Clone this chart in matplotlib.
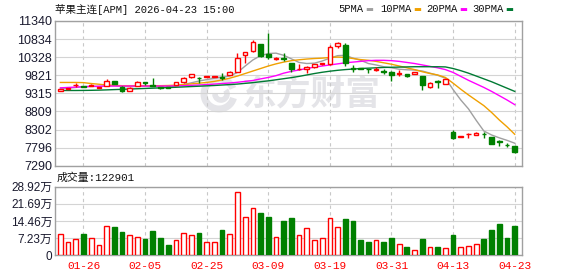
import numpy as np
import matplotlib
matplotlib.use("Agg")
import matplotlib.pyplot as plt
from matplotlib.patches import Arc

# ---- data ----
dates = ["01-21", "01-22", "01-23", "01-26", "01-27", "01-28", "01-29", "01-30",
         "02-02", "02-03", "02-04", "02-05", "02-06", "02-09", "02-10", "02-11",
         "02-12", "02-13", "02-24", "02-25", "02-26", "02-27", "03-02", "03-03",
         "03-04", "03-05", "03-06", "03-09", "03-10", "03-11", "03-12", "03-13",
         "03-16", "03-17", "03-18", "03-19", "03-20", "03-23", "03-24", "03-25",
         "03-26", "03-27", "03-30", "03-31", "04-01", "04-02", "04-03", "04-07",
         "04-08", "04-09", "04-10", "04-13", "04-14", "04-15", "04-16", "04-17",
         "04-20", "04-21", "04-22", "04-23"]
tick_dates = ["01-26", "02-05", "02-25", "03-09", "03-19", "03-31", "04-13", "04-23"]

opens = [9380, 9440, 9540, 9520, 9530, 9478, 9530, 9665, 9500, 9390,
         9530, 9630, 9540, 9475, 9475, 9547, 9622, 9762, 9745, 9780,
         9785, 9765, 9827, 9920, 10377, 10507, 10685, 10405, 10265, 10312,
         10153, 9990, 9985, 10060, 10140, 10125, 10638, 10666, 10020, 10010,
         10000, 9970, 9925, 9920, 9855, 9855, 9855, 9799, 9500, 9640,
         9575, 8220, 8084, 8170, 8158, 8180, 8085, 7990, 7880, 7841]
highs = [9440, 9465, 9594, 9530, 9575, 9495, 9706, 9670, 9510, 9485,
         9660, 9641, 9734, 9480, 9485, 9640, 9760, 9870, 9765, 9810,
         9805, 9874, 9930, 10433, 10470, 10806, 10700, 11011, 10320, 10433,
         10160, 10125, 10070, 10130, 10175, 10666, 10740, 10713, 10107, 10030,
         10010, 10060, 9985, 9930, 9967, 9870, 9905, 9810, 9640, 9687,
         9715, 8289, 8125, 8213, 8225, 8240, 8095, 8020, 7920, 7850]
lows = [9375, 9435, 9500, 9480, 9515, 9470, 9520, 9570, 9360, 9380,
        9525, 9550, 9520, 9430, 9460, 9540, 9615, 9755, 9594, 9775,
        9780, 9690, 9820, 9910, 10172, 10480, 10330, 10265, 10255, 10228,
        9902, 9960, 9873, 10015, 10110, 10120, 10573, 10088, 9901, 9990,
        9873, 9939, 9855, 9668, 9799, 9762, 9850, 9407, 9454, 9454,
        9570, 8028, 8080, 8074, 8150, 8055, 7890, 7840, 7820, 7655]
closes = [9436, 9458, 9550, 9500, 9548, 9490, 9660, 9578, 9390, 9473,
          9622, 9615, 9530, 9462, 9468, 9631, 9753, 9855, 9735, 9800,
          9800, 9750, 9920, 10293, 10461, 10741, 10358, 10340, 10312, 10290,
          9986, 10010, 10060, 10125, 10150, 10600, 10731, 10154, 10010, 9995,
          9990, 9985, 9920, 9827, 9880, 9800, 9900, 9547, 9613, 9630,
          9706, 8070, 8115, 8190, 8213, 8170, 7897, 7960, 7860, 7682]
# volume in units of 10k (万)
volumes = [9.0, 5.4, 6.9, 9.0, 7.4, 4.4, 12.4, 12.1, 10.0, 8.6,
           7.8, 6.7, 10.4, 7.5, 4.2, 6.5, 9.6, 8.6, 9.6, 5.8,
           5.4, 10.8, 9.0, 26.5, 16.1, 19.9, 17.9, 16.3, 7.8, 14.6,
           15.8, 8.6, 11.5, 6.25, 7.4, 15.7, 11.9, 15.4, 14.6, 6.25,
           5.8, 6.25, 5.8, 7.1, 4.9, 3.3, 2.4, 6.7, 3.6, 3.3,
           2.9, 8.75, 3.3, 4.0, 4.9, 6.7, 10.8, 13.3, 7.1, 12.2901]

ma5 = [9450, 9460, 9480, 9500, 9510, 9505, 9520, 9530, 9510, 9500,
       9510, 9510, 9500, 9510, 9500, 9520, 9560, 9610, 9660, 9700,
       9740, 9770, 9800, 9900, 10080, 10250, 10370, 10430, 10440, 10380,
       10280, 10180, 10150, 10160, 10220, 10300, 10370, 10380, 10300, 10240,
       10150, 10110, 10060, 10030, 9990, 9975, 9967, 9940, 9880, 9820,
       9740, 9420, 9130, 8880, 8560, 8260, 8150, 8070, 8000, 7920]
ma10 = [9620, 9620, 9620, 9615, 9590, 9570, 9550, 9540, 9530, 9530,
        9530, 9530, 9530, 9530, 9535, 9545, 9560, 9580, 9600, 9620,
        9650, 9690, 9740, 9800, 9870, 9940, 10010, 10080, 10140, 10190,
        10230, 10255, 10275, 10290, 10300, 10320, 10330, 10320, 10290, 10260,
        10240, 10210, 10170, 10130, 10080, 10030, 9980, 9920, 9870, 9830,
        9760, 9600, 9430, 9270, 9120, 8970, 8780, 8570, 8380, 8170]
ma20 = [9470, 9480, 9490, 9500, 9510, 9515, 9520, 9520, 9520, 9520,
        9520, 9520, 9520, 9520, 9520, 9525, 9530, 9540, 9550, 9560,
        9575, 9590, 9605, 9625, 9650, 9675, 9720, 9760, 9810, 9880,
        9930, 9970, 10010, 10050, 10080, 10110, 10140, 10170, 10190, 10210,
        10230, 10240, 10240, 10230, 10210, 10180, 10150, 10110, 10070, 10030,
        9980, 9900, 9790, 9680, 9580, 9480, 9370, 9250, 9130, 9000]
ma30 = [9395, 9395, 9395, 9397, 9400, 9405, 9412, 9420, 9428, 9436,
        9444, 9452, 9460, 9468, 9476, 9485, 9495, 9505, 9515, 9525,
        9535, 9548, 9560, 9575, 9595, 9615, 9640, 9665, 9695, 9725,
        9755, 9790, 9830, 9870, 9905, 9935, 9960, 9980, 9995, 10010,
        10020, 10030, 10040, 10045, 10050, 10055, 10060, 10060, 10060, 10060,
        10055, 10010, 9950, 9880, 9800, 9720, 9640, 9550, 9460, 9370]

price_ticks = [7290, 7796, 8302, 8809, 9315, 9821, 10328, 10834, 11340]
vol_ticks = [0, 7.23, 14.46, 21.69, 28.92]
vol_tick_labels = ["0", "7.23万", "14.46万", "21.69万", "28.92万"]

title = "苹果主连[APM] 2026-04-23 15:00"
ma_names = ["5PMA", "10PMA", "20PMA", "30PMA"]
ma_colors = ["#a0a0a0", "#f0a000", "#ff00ff", "#007a33"]

RED = "#ff0000"
GREEN = "#008000"
W, H = 578, 276
MONO = ["Liberation Mono", "Noto Sans CJK SC"]
SANS = ["Liberation Sans", "Noto Sans CJK SC"]


def box(left, top, right, bottom):
    return [left / W, 1 - bottom / H, (right - left) / W, (bottom - top) / H]


def style_axes(ax, xt):
    for s in ax.spines.values():
        s.set_color("#a0a0a0")
        s.set_linewidth(1)
    ax.tick_params(length=0, pad=2)
    ax.set_xticks(xt)
    ax.grid(axis="y", color="#d4d4d4", linewidth=0.8, linestyle="-")
    ax.grid(axis="x", color="#c8c8c8", linewidth=0.8, linestyle=(0, (3, 3)))
    ax.set_axisbelow(True)


fig = plt.figure(figsize=(W / 100, H / 100), dpi=100)
ax1 = fig.add_axes(box(55, 21, 522, 165.7))
ax2 = fig.add_axes(box(55, 186.7, 522, 255.3))

x = np.arange(len(dates))
o = np.array(opens, float)
c = np.array(closes, float)
up = c >= o
colors = np.where(up, RED, GREEN)
xt = [dates.index(d) for d in tick_dates]

# price panel
style_axes(ax1, xt)
ax1.set_xlim(-0.7, len(dates) - 0.05)
ax1.set_ylim(price_ticks[0], price_ticks[-1])
ax1.set_yticks(price_ticks)
ax1.set_yticklabels([str(t) for t in price_ticks], family=SANS, fontsize=9, color="#1a1a2e")
ax1.set_xticklabels([])

# faint watermark (logo + name)
wm = "#e4e4e8"
ax1.text(242 / W, 1 - 94 / H, "东方财富", transform=fig.transFigure,
         fontsize=25, fontweight="bold", color=wm, family="Noto Sans CJK SC",
         ha="left", va="center", zorder=0.5)
ax1.add_patch(Arc((219 / W, 1 - 94 / H), 30 / W, 30 / H, theta1=40, theta2=330,
                  transform=fig.transFigure, color=wm, linewidth=5, zorder=0.5))
ax1.add_patch(Arc((221 / W, 1 - 94 / H), 12 / W, 12 / H, theta1=180, theta2=60,
                  transform=fig.transFigure, color=wm, linewidth=4, zorder=0.5))

for m, col in zip([ma5, ma10, ma20, ma30], ma_colors):
    ax1.plot(x, m, color=col, linewidth=1, zorder=2)

ax1.vlines(x, lows, highs, color=colors, linewidth=1, zorder=3)
body = np.maximum(np.abs(c - o), 18)
bottom = np.minimum(o, c)
ax1.bar(x, body, bottom=bottom, width=0.6, color=np.where(up, "white", GREEN),
        edgecolor=colors, linewidth=1, zorder=4)

# volume panel
style_axes(ax2, xt)
ax2.set_xlim(-0.7, len(dates) - 0.05)
ax2.set_ylim(0, vol_ticks[-1])
ax2.set_yticks(vol_ticks)
ax2.set_yticklabels(vol_tick_labels, family=SANS, fontsize=8.5, color="#1a1a2e")
ax2.set_xticklabels(tick_dates, family=MONO, fontsize=8, color=RED)
ax2.tick_params(axis="x", pad=4)
ax2.bar(x, volumes, width=0.62, color=np.where(up, "white", GREEN),
        edgecolor=colors, linewidth=1, zorder=3)

# header texts
fig.text(55 / W, 1 - 9.5 / H, title, family=MONO, fontsize=7.6, color="#111111",
         ha="left", va="center")
fig.text(57 / W, 1 - 177.5 / H, "成交量:%d" % round(volumes[-1] * 10000), family=MONO,
         fontsize=7.8, color="#111111", ha="left", va="center")

leg_x = [338, 380, 426, 472]
for lx, name, col in zip(leg_x, ma_names, ma_colors):
    fig.text(lx / W, 1 - 9.5 / H, name, family=MONO, fontsize=7.6, color="#111111",
             ha="left", va="center")
    fig.text((lx + 6.1 * len(name) + 3) / W, 1 - 9.5 / H, "\u25ac", color=col,
             fontsize=6, ha="left", va="center", family="DejaVu Sans")

fig.savefig("out.png", dpi=100)
